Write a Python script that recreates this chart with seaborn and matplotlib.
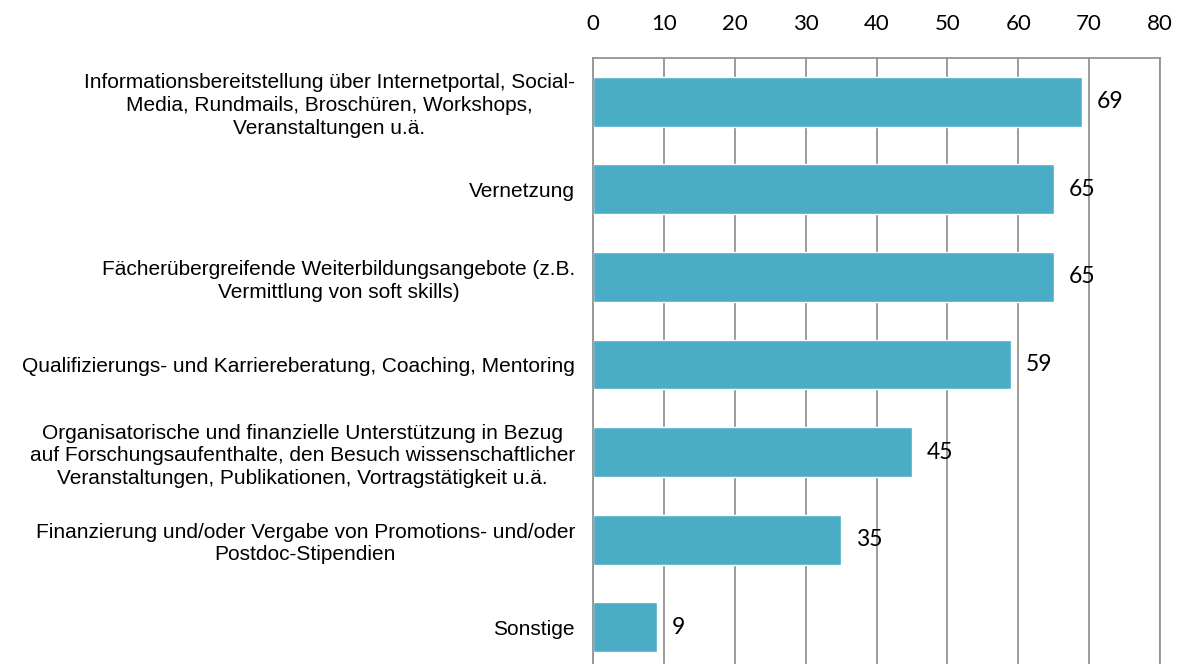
import matplotlib.pyplot as plt
import seaborn as sns
import pandas as pd

categories = [
    "Informationsbereitstellung über Internetportal, Social-\nMedia, Rundmails, Broschüren, Workshops,\nVeranstaltungen u.ä.",
    "Vernetzung",
    "Fächerübergreifende Weiterbildungsangebote (z.B.\nVermittlung von soft skills)",
    "Qualifizierungs- und Karriereberatung, Coaching, Mentoring",
    "Organisatorische und finanzielle Unterstützung in Bezug\nauf Forschungsaufenthalte, den Besuch wissenschaftlicher\nVeranstaltungen, Publikationen, Vortragstätigkeit u.ä.",
    "Finanzierung und/oder Vergabe von Promotions- und/oder\nPostdoc-Stipendien",
    "Sonstige",
]
values = [69, 65, 65, 59, 45, 35, 9]
x_ticks = [0, 10, 20, 30, 40, 50, 60, 70, 80]

df = pd.DataFrame({"cat": categories, "val": values})

sns.set_style("white")
fig = plt.figure(figsize=(11.8, 6.64), dpi=100)
ax = fig.add_axes([593 / 1180, 1 - 671 / 664, (1160 - 593) / 1180, (671 - 58) / 664])

sns.barplot(data=df, x="val", y="cat", orient="h", color="#4BACC6",
            saturation=1, width=0.57, ax=ax)

ax.set_xlim(0, 80)
ax.set_ylim(len(categories) - 0.5, -0.5)
ax.set_xticks(x_ticks)
ax.xaxis.tick_top()
ax.tick_params(axis="x", length=0, pad=17, labelsize=16, labelcolor="black")
ax.tick_params(axis="y", length=0, pad=13, labelcolor="black")
for lab in ax.get_xticklabels():
    lab.set_family("Lato")
for lab in ax.get_yticklabels():
    lab.set_family("Liberation Sans")
    lab.set_fontsize(15)
    lab.set_horizontalalignment("right")
    lab.set_multialignment("center")
    lab.set_linespacing(1.24)

ax.grid(axis="x", color="#939393", linewidth=1.3)
ax.set_axisbelow(True)
for side in ["top", "left", "right"]:
    ax.spines[side].set_color("#939393")
    ax.spines[side].set_linewidth(1.3)
ax.spines["bottom"].set_visible(False)
ax.set_xlabel("")
ax.set_ylabel("")

for i, v in enumerate(values):
    ax.text(v + 2.1, i, str(v), va="center", ha="left", fontsize=16.5,
            family="Lato", color="black")

fig.savefig("out.png", dpi=100)
